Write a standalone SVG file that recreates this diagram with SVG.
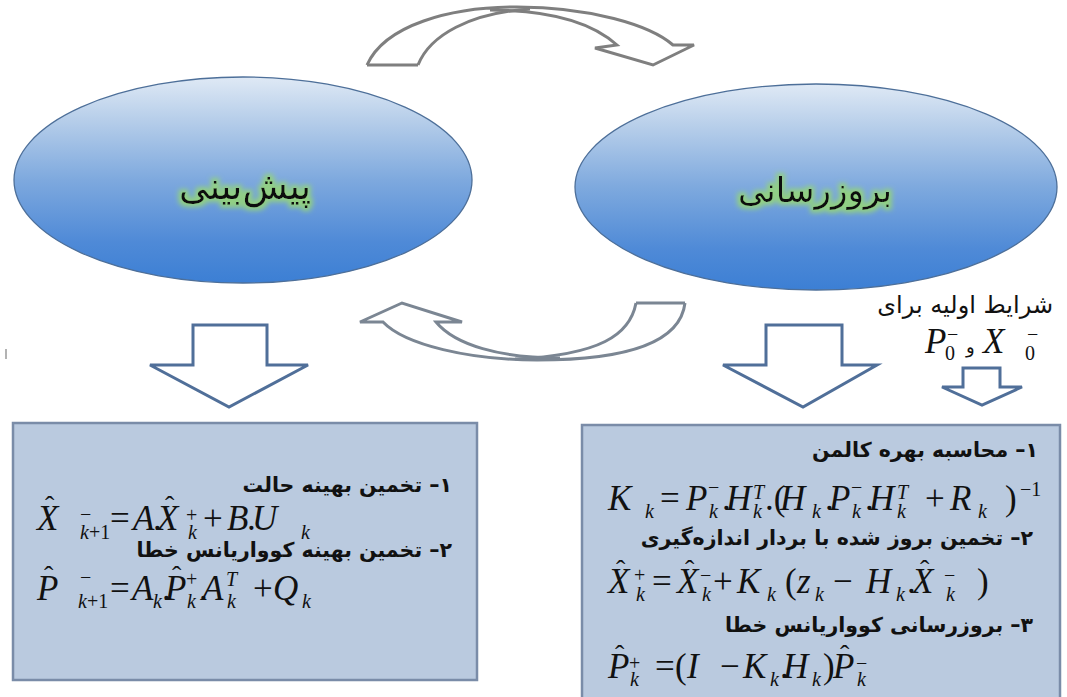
<svg xmlns="http://www.w3.org/2000/svg" width="1067" height="697" viewBox="0 0 1067 697">
<defs>
<style>
.fa{font-family:"DejaVu Sans",sans-serif;fill:#111}
.fb{font-family:"DejaVu Sans",sans-serif;font-weight:bold;font-size:20.5px;fill:#111}
.m{font-family:"Liberation Serif",serif;font-style:italic;font-size:35px;fill:#111}
.r{font-style:normal}
.s{font-size:20px}
.h{font-style:normal;font-size:28px}
.ell{fill:url(#eg);stroke:#4d6f99;stroke-width:1.3}
.box{fill:#bacadf;stroke:#7a8ca8;stroke-width:2.5}
.down{fill:#fff;stroke:#506f99;stroke-width:3;stroke-linejoin:miter}
.curv{fill:none;stroke-width:3;stroke-linejoin:miter}
</style>
<linearGradient id="eg" x1="0" y1="0" x2="0" y2="1">
<stop offset="0" stop-color="#dfe9f5"/>
<stop offset="0.2" stop-color="#b8cfea"/>
<stop offset="0.5" stop-color="#7ea9de"/>
<stop offset="0.8" stop-color="#4f8ad7"/>
<stop offset="1" stop-color="#3c7fd4"/>
</linearGradient>
<filter id="glow" x="-20%" y="-50%" width="140%" height="200%">
<feMorphology in="SourceAlpha" operator="dilate" radius="3" result="d"/>
<feGaussianBlur in="d" stdDeviation="2.5" result="b"/>
<feFlood flood-color="#93d27e" flood-opacity="0.95"/>
<feComposite in2="b" operator="in" result="g"/>
<feMerge><feMergeNode in="g"/><feMergeNode in="SourceGraphic"/></feMerge>
</filter>
</defs>
<rect width="1067" height="697" fill="#fff"/>

<g id="node-predict">
<ellipse class="ell" cx="243" cy="180" rx="229" ry="103"/>
<text class="fa" x="245" y="199" font-size="37" text-anchor="middle" filter="url(#glow)">پیش‌بینی</text>
</g>

<g id="node-update">
<ellipse class="ell" cx="816" cy="187" rx="241" ry="103"/>
<text class="fa" x="815" y="202" font-size="34" text-anchor="middle" filter="url(#glow)">بروزرسانی</text>
</g>

<g id="connectors">
<g stroke="#7f7f7f" class="curv">
<path d="M367,65 C385,25 450,7 517,7 C590,7 650,25 673,45 L694,45 L653,65 L595,48 L617,45 C595,25 555,10 490,10"/>
<path d="M418,65 C430,35 470,13 530,9"/>
<path d="M367,65 L418,65"/>
</g>
<g stroke="#7b8693" class="curv">
<path d="M685,303 C680,345 620,360 537,360 C470,360 405,345 383,322 L360,322 L402,303 L462,322 L436,322 C455,345 500,358 560,358"/>
<path d="M636,303 C630,335 600,355 515,359"/>
<path d="M636,303 L685,303"/>
</g>
<path class="down" d="M193,325 L267,325 L267,365 L308,365 L229,407 L150,365 L193,365 Z"/>
<path class="down" d="M766,325 L842,325 L842,365 L877,365 L803,407 L723,365 L766,365 Z"/>
<path class="down" d="M963,368 L1000,368 L1000,387 L1022,387 L982,405 L942,387 L963,387 Z"/>
</g>

<line x1="6" y1="349" x2="6" y2="359" stroke="#9a9a9a" stroke-width="1.5"/>

<g id="init-conditions">
<text class="fa" x="1053" y="313" font-size="24" fill="#333" direction="rtl" text-anchor="start">شرایط اولیه برای</text>
<text class="m" font-size="28" y="353"><tspan x="925">P</tspan><tspan class="s r" x="945" y="360">0</tspan><tspan class="s r" x="947" y="341">−</tspan><tspan class="fa r" font-size="18" x="966" y="353">و</tspan><tspan x="983" y="353">X</tspan><tspan class="s r" x="1025" y="360">0</tspan><tspan class="s r" x="1027" y="341">−</tspan></text>
</g>

<g id="box-predict">
<rect class="box" x="13" y="423" width="464" height="257"/>
<text class="fb" x="452" y="492" direction="rtl" text-anchor="start">۱– تخمین بهینه حالت</text>
<text class="m" y="530"><tspan x="37">X</tspan><tspan class="h" x="45" y="515">ˆ</tspan><tspan class="s r" x="80" y="521">−</tspan><tspan class="s" x="80" y="539">k</tspan><tspan class="s r">+1</tspan><tspan class="r" x="110" y="530">=</tspan><tspan x="133">A</tspan><tspan class="r" x="153">.</tspan><tspan x="157">X</tspan><tspan class="h" x="165" y="515">ˆ</tspan><tspan class="s r" x="186" y="522">+</tspan><tspan class="s" x="188" y="539">k</tspan><tspan class="r" x="203" y="530">+</tspan><tspan x="227">B</tspan><tspan class="r" x="247">.</tspan><tspan x="252">U</tspan><tspan class="s" x="301" y="539">k</tspan></text>
<text class="fb" x="452" y="557" direction="rtl" text-anchor="start">۲– تخمین بهینه کوواریانس خطا</text>
<text class="m" y="600"><tspan x="37">P</tspan><tspan class="h" x="44" y="585">ˆ</tspan><tspan class="s r" x="80" y="584">−</tspan><tspan class="s" x="78" y="608">k</tspan><tspan class="s r">+1</tspan><tspan class="r" x="110" y="600">=</tspan><tspan x="132">A</tspan><tspan class="s" x="153" y="608">k</tspan><tspan class="r" x="162" y="600">.</tspan><tspan x="165">P</tspan><tspan class="h" x="172" y="585">ˆ</tspan><tspan class="s r" x="186" y="586">+</tspan><tspan class="s" x="187" y="608">k</tspan><tspan class="r" x="199" y="600">.</tspan><tspan x="202">A</tspan><tspan class="s" x="226" y="586">T</tspan><tspan class="s" x="227" y="608">k</tspan><tspan class="r" x="253" y="600">+</tspan><tspan x="273">Q</tspan><tspan class="s" x="302" y="608">k</tspan></text>
</g>

<g id="box-update">
<rect class="box" x="582" y="425" width="478" height="280"/>
<text class="fb" x="1038" y="457" direction="rtl" text-anchor="start">۱– محاسبه بهره کالمن</text>
<text class="m" y="510"><tspan x="608">K</tspan><tspan class="s" x="645" y="518">k</tspan><tspan class="r" x="660" y="510">=</tspan><tspan x="686">P</tspan><tspan class="s r" x="708" y="494">−</tspan><tspan class="s" x="709" y="518">k</tspan><tspan class="r" x="722" y="510">.</tspan><tspan x="726">H</tspan><tspan class="s" x="753" y="499">T</tspan><tspan class="s" x="753" y="518">k</tspan><tspan class="r" x="765" y="510">.(</tspan><tspan x="780">H</tspan><tspan class="s" x="812" y="518">k</tspan><tspan class="r" x="825" y="510">.</tspan><tspan x="829">P</tspan><tspan class="s r" x="851" y="494">−</tspan><tspan class="s" x="852" y="518">k</tspan><tspan class="r" x="865" y="510">.</tspan><tspan x="869">H</tspan><tspan class="s" x="897" y="499">T</tspan><tspan class="s" x="897" y="518">k</tspan><tspan class="r" x="925" y="510">+</tspan><tspan x="950">R</tspan><tspan class="s" x="978" y="518">k</tspan><tspan class="r" x="1005" y="510">)</tspan><tspan class="s r" x="1020" y="496">−1</tspan></text>
<text class="fb" x="1033" y="545" direction="rtl" text-anchor="start">۲– تخمین بروز شده با بردار اندازه‌گیری</text>
<text class="m" y="593"><tspan x="608">X</tspan><tspan class="h" x="616" y="579">ˆ</tspan><tspan class="s r" x="634" y="582">+</tspan><tspan class="s" x="636" y="601">k</tspan><tspan class="r" x="652" y="593">=</tspan><tspan x="677">X</tspan><tspan class="h" x="685" y="579">ˆ</tspan><tspan class="s r" x="700" y="582">−</tspan><tspan class="s" x="702" y="601">k</tspan><tspan class="r" x="713" y="593">+</tspan><tspan x="737">K</tspan><tspan class="s" x="767" y="601">k</tspan><tspan class="r" x="785" y="593">(</tspan><tspan x="797">z</tspan><tspan class="s" x="815" y="601">k</tspan><tspan class="r" x="833" y="593">−</tspan><tspan x="866">H</tspan><tspan class="s" x="896" y="601">k</tspan><tspan class="r" x="907" y="593">.</tspan><tspan x="912">X</tspan><tspan class="h" x="920" y="579">ˆ</tspan><tspan class="s r" x="944" y="582">−</tspan><tspan class="s" x="946" y="601">k</tspan><tspan class="r" x="977" y="593">)</tspan></text>
<text class="fb" x="1033" y="632" direction="rtl" text-anchor="start">۳– بروزرسانی کوواریانس خطا</text>
<text class="m" y="678"><tspan x="608">P</tspan><tspan class="h" x="615" y="664">ˆ</tspan><tspan class="s r" x="629" y="670">+</tspan><tspan class="s" x="630" y="686">k</tspan><tspan class="r" x="655" y="678">=</tspan><tspan class="r" x="675">(</tspan><tspan x="687">I</tspan><tspan class="r" x="720">−</tspan><tspan x="743">K</tspan><tspan class="s" x="770" y="686">k</tspan><tspan class="r" x="780" y="678">.</tspan><tspan x="783">H</tspan><tspan class="s" x="812" y="686">k</tspan><tspan class="r" x="823" y="678">)</tspan><tspan x="833">P</tspan><tspan class="h" x="840" y="664">ˆ</tspan><tspan class="s r" x="856" y="670">−</tspan><tspan class="s" x="857" y="686">k</tspan></text>
</g>
</svg>
